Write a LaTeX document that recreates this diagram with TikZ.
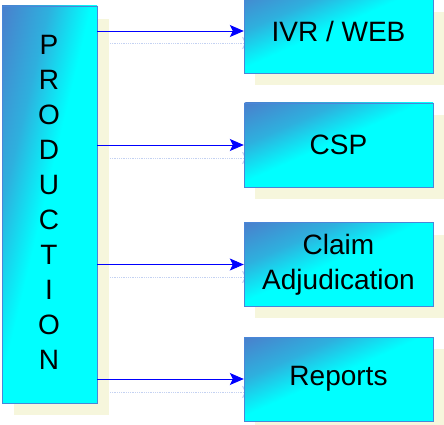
\documentclass[tikz,border=0pt]{standalone}
\usepackage{fontspec}
\setmainfont{Liberation Sans}
\usetikzlibrary{arrows.meta}
\definecolor{bdr}{HTML}{4A86D8}
\definecolor{tl}{HTML}{4A7FCC}
\definecolor{midc}{HTML}{2EB0DE}
\definecolor{cy}{HTML}{00FFFF}
\definecolor{shd}{HTML}{F6F6DC}
\definecolor{faint}{HTML}{C4D2F2}
% path bbox maps to 25bp..75bp of the shading
\pgfdeclareverticalshading{diagshade}{100bp}{color(0bp)=(cy); color(51.5bp)=(cy); color(62.5bp)=(midc); color(75bp)=(tl); color(100bp)=(tl)}
\newcommand{\gradbox}[4]{%
  \pgfmathsetmacro{\gw}{#3-#1}%
  \pgfmathsetmacro{\gh}{#4-#2}%
  \pgfmathsetmacro{\gn}{veclen(\gw,\gh)}%
  \pgfmathsetmacro{\gth}{atan(\gh/\gw)}%
  \pgfmathsetmacro{\gc}{(\gw/\gn)*\gh}%
  \pgfmathsetmacro{\gW}{\gn/2+5}%
  \begin{scope}
    \clip (#1,#2) rectangle (#3,#4);
    \begin{scope}[transform canvas={shift={({(#1+#3)/2},{(#2+#4)/2})}, rotate=\gth}]
      \shade[shading=diagshade] (-\gW,-\gc) rectangle (\gW,\gc);
    \end{scope}
  \end{scope}
  \draw[boxline] (#1,#2) rectangle (#3,#4);
}
\tikzset{
  x=1pt,y=-1pt,
  boxline/.style={draw=bdr,line width=0.8pt},
  sbox/.style={minimum width=189pt,minimum height=84pt,inner sep=0pt,align=center,font=\fontsize{28}{35}\selectfont},
  conn/.style={draw=blue,line width=0.9pt,-{Stealth[length=14pt,width=12pt,inset=3pt]}},
  shconn/.style={draw=faint,line width=0.8pt,densely dotted,-{Stealth[length=14pt,width=12pt,inset=3pt,fill=faint!60]}},
  letter/.style={font=\fontsize{28}{28}\selectfont,inner sep=0pt}
}
\begin{document}
\begin{tikzpicture}
\useasboundingbox (0,0) rectangle (444,425);
% shadows
\fill[shd] (14,19) rectangle (109,415);
\fill[shd] (255,12) rectangle (445,85);
\fill[shd] (255,115) rectangle (445,199);
\fill[shd] (255,235) rectangle (445,318);
\fill[shd] (255,349) rectangle (445,433);
% arrow shadows
\coordinate (s1a) at (110,43); \coordinate (s1b) at (256,43);
\coordinate (s2a) at (110,158); \coordinate (s2b) at (256,158);
\coordinate (s3a) at (110,277); \coordinate (s3b) at (256,277);
\coordinate (s4a) at (110,392); \coordinate (s4b) at (256,392);
\draw[shconn] (s1a) -- (s1b);
\draw[shconn] (s2a) -- (s2b);
\draw[shconn] (s3a) -- (s3b);
\draw[shconn] (s4a) -- (s4b);
% production box
\gradbox{2}{6}{97}{403}
\node[inner sep=0pt,minimum width=95pt,minimum height=397pt] (prod) at (49.5,204.5) {};
\foreach \l [count=\i] in {P,R,O,D,U,C,T,I,O,N}
  \node[letter] (L\i) at (49,{10+35*\i}) {\l};
% boxes
\gradbox{244}{-11}{433}{73}
\gradbox{244}{103}{433}{187}
\gradbox{244}{222.5}{433}{306.5}
\gradbox{244}{337}{433}{421}
\node[sbox] (ivr) at (338.5,31) {IVR / WEB};
\node[sbox] (csp) at (338.5,145) {CSP};
\node[sbox] (claim) at (338.5,264.5) {Claim\\Adjudication};
\node[sbox] (rep) at (338.5,379) {Reports};
% connectors
\draw[conn] (prod.east |- ivr.west) -- (ivr.west);
\draw[conn] (prod.east |- csp.west) -- (csp.west);
\draw[conn] (prod.east |- claim.west) -- (claim.west);
\draw[conn] (prod.east |- rep.west) -- (rep.west);
\end{tikzpicture}
\end{document}
